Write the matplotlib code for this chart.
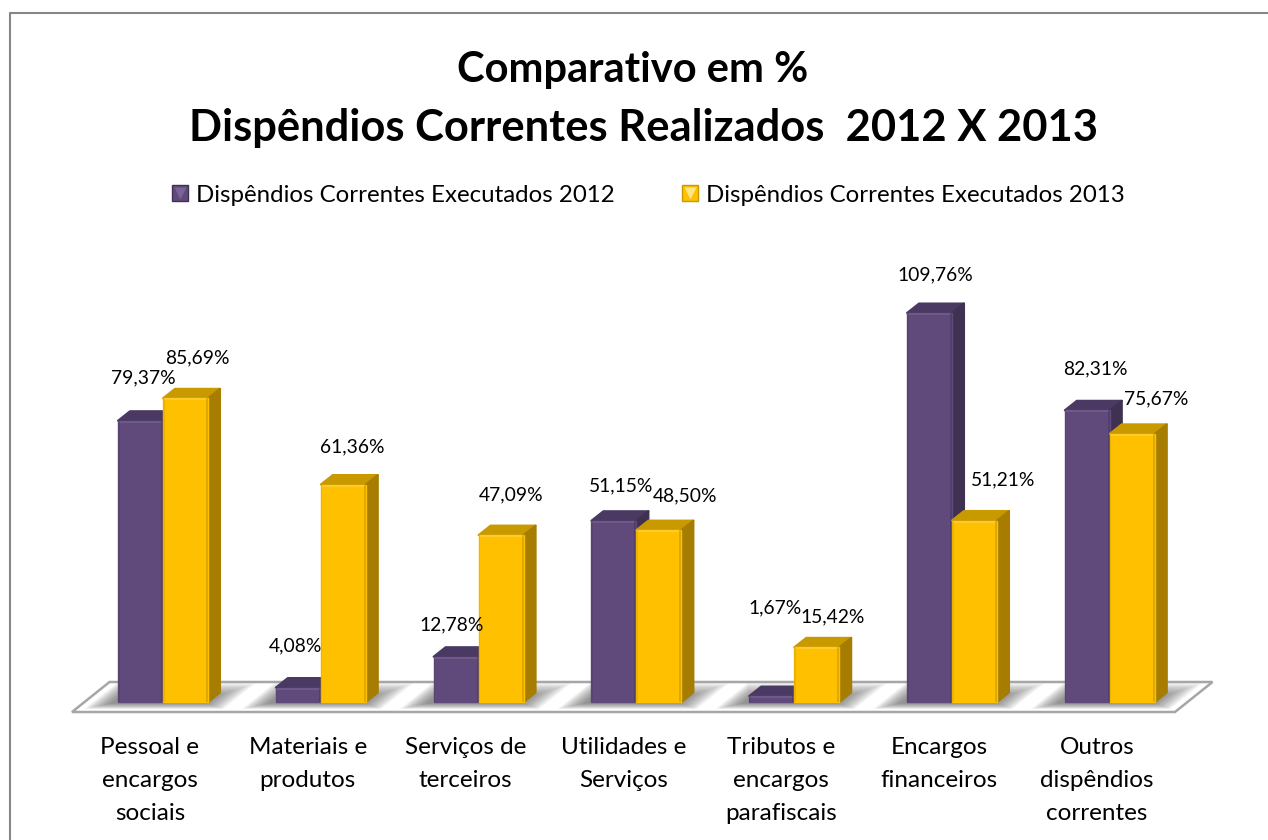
import matplotlib
matplotlib.use('Agg')
import matplotlib.pyplot as plt
from matplotlib.lines import Line2D
from matplotlib.patches import Polygon, Rectangle
from matplotlib.legend_handler import HandlerTuple

plt.rcParams['font.family'] = ['Lato', 'DejaVu Sans']

# dados
categorias = ['Pessoal e\nencargos\nsociais', 'Materiais e\nprodutos', 'Serviços de\nterceiros',
              'Utilidades e\nServiços', 'Tributos e\nencargos\nparafiscais', 'Encargos\nfinanceiros',
              'Outros\ndispêndios\ncorrentes']
valores_2012 = [79.37, 4.08, 12.78, 51.15, 1.67, 109.76, 82.31]
valores_2013 = [85.69, 61.36, 47.09, 48.50, 15.42, 51.21, 75.67]
nome_2012 = 'Dispêndios Correntes Executados 2012'
nome_2013 = 'Dispêndios Correntes Executados 2013'

# deslocamento dos rótulos em pixels (colocados à mão no original)
rotulo_2012 = [(2.5, 43), (-3, 42), (-4, 32), (7, 35), (3, 88), (5.5, 38), (8, 41)]
rotulo_2013 = [(11.5, 40), (9, 38), (10, 40), (26, 34), (16, 30), (28.5, 41), (23.7, 35)]

# escala da figura
W, H = 1268, 840
PX_X = 157.8   # pixels por categoria
PX_Y = 3.544   # pixels por ponto percentual
X0, Y0 = 163, 702
LARG = 45 / PX_X
DX, DY = 12 / PX_X, 9.5 / PX_Y

ROXO = ('#604A7B', '#4A3963', '#3F3151', '#7A6496')
OURO = ('#FFC000', '#C99A00', '#A67D00', '#FFD24D')

fig = plt.figure(figsize=(W / 100, H / 100), dpi=100)
ax = fig.add_axes([0, 0, 1, 1])
ax.set_xlim(-X0 / PX_X, (W - X0) / PX_X)
ax.set_ylim(-(H - Y0) / PX_Y, Y0 / PX_Y)
ax.axis('off')

# piso
fx0 = (72 - X0) / PX_X
fx1 = (1175 - X0) / PX_X
fy0 = -10 / PX_Y
fy1 = 20 / PX_Y
skew = 37.5 / PX_X
piso = Polygon([(fx0, fy0), (fx1, fy0), (fx1 + skew, fy1), (fx0 + skew, fy1)], closed=True,
               fc='white', ec='#A6A6A6', lw=1.8, zorder=1, joinstyle='miter')
ax.add_patch(piso)

# sombra sobre o piso
for i in range(len(categorias)):
    for k in range(24):
        esq = i - LARG - (34 - k * 1.2) / PX_X
        dir_ = i + LARG + (48 - k * 1.8) / PX_X
        base = (-7 + k * 0.25) / PX_Y
        topo = (19 - k * 0.6) / PX_Y
        inc = (topo - base) * PX_Y * 1.25 / PX_X
        s = Polygon([(esq, base), (dir_ - inc, base), (dir_, topo), (esq + inc, topo)],
                    closed=True, fc='#505050', ec='none', alpha=0.035, zorder=2)
        ax.add_patch(s)
        s.set_clip_path(piso)


def barra(x, v, cores, z):
    frente, topo, lado, claro = cores
    ax.add_patch(Polygon([(x, v), (x + LARG, v), (x + LARG + DX, v + DY), (x + DX, v + DY)],
                         closed=True, fc=topo, ec=topo, lw=1.5, joinstyle='round', zorder=z))
    ax.add_patch(Polygon([(x + LARG, 0), (x + LARG + DX, DY), (x + LARG + DX, v + DY), (x + LARG, v)],
                         closed=True, fc=lado, ec=lado, lw=1.5, joinstyle='round', zorder=z))
    ax.add_patch(Rectangle((x, 0), LARG, v, fc=frente, ec=frente, lw=1, joinstyle='round', zorder=z + 0.1))
    # chanfro das bordas
    esp = min(2 / PX_Y, v / 2)
    ax.add_patch(Rectangle((x, v - esp), LARG, esp, fc=claro, ec='none', alpha=0.6, zorder=z + 0.2))
    ax.add_patch(Rectangle((x + LARG - 2 / PX_X, 0), 2 / PX_X, v, fc=topo, ec='none', alpha=0.6, zorder=z + 0.2))
    ax.add_patch(Rectangle((x, 0), 1.5 / PX_X, v, fc=topo, ec='none', alpha=0.35, zorder=z + 0.2))


for i in range(len(categorias)):
    barra(i - LARG, valores_2012[i], ROXO, 3 + i)
    barra(i, valores_2013[i], OURO, 3.5 + i)

for i in range(len(categorias)):
    for x, v, off in [(i - LARG / 2, valores_2012[i], rotulo_2012[i]),
                      (i + LARG / 2, valores_2013[i], rotulo_2013[i])]:
        ax.annotate(f'{v:.2f}%'.replace('.', ','), (x, v), xytext=off, textcoords='offset pixels',
                    ha='center', va='center', fontsize=13.9, color='black', zorder=20)
    ax.annotate(categorias[i], (i, 0), xytext=(-13, -35), textcoords='offset pixels', ha='center', va='top',
                fontsize=17.5, linespacing=1.7, color='black', zorder=20)

# título
fig.text(633 / W, 1 - 70 / H, 'Comparativo em %', ha='center', va='center', fontsize=30, fontweight='bold')
fig.text(644 / W, 1 - 127.5 / H, 'Dispêndios Correntes Realizados  2012 X 2013', ha='center', va='center',
         fontsize=31.3, fontweight='bold')


# legenda
def chave(cor, claro, borda):
    return (Line2D([], [], marker='s', ms=11, mfc=cor, mec=borda, mew=1, ls=''),
            Line2D([], [], marker='v', ms=8, mfc=claro, mec='none', ls=''))


ax.legend([chave(ROXO[0], ROXO[3], '#3F3151'), chave(OURO[0], '#FFE680', '#C99A00')], [nome_2012, nome_2013],
          handler_map={tuple: HandlerTuple(ndivide=1)}, ncol=2, loc='center', bbox_to_anchor=(648 / W, 1 - 195 / H),
          frameon=False, fontsize=17.3, columnspacing=2.8, handlelength=0.7, handletextpad=0.3)

# moldura (só topo e esquerda aparecem no recorte)
fig.add_artist(Line2D([9.5 / W, 9.5 / W, 1], [0, 1 - 12.5 / H, 1 - 12.5 / H], color='#868686', lw=1.5))

fig.savefig('out.png', dpi=100)
